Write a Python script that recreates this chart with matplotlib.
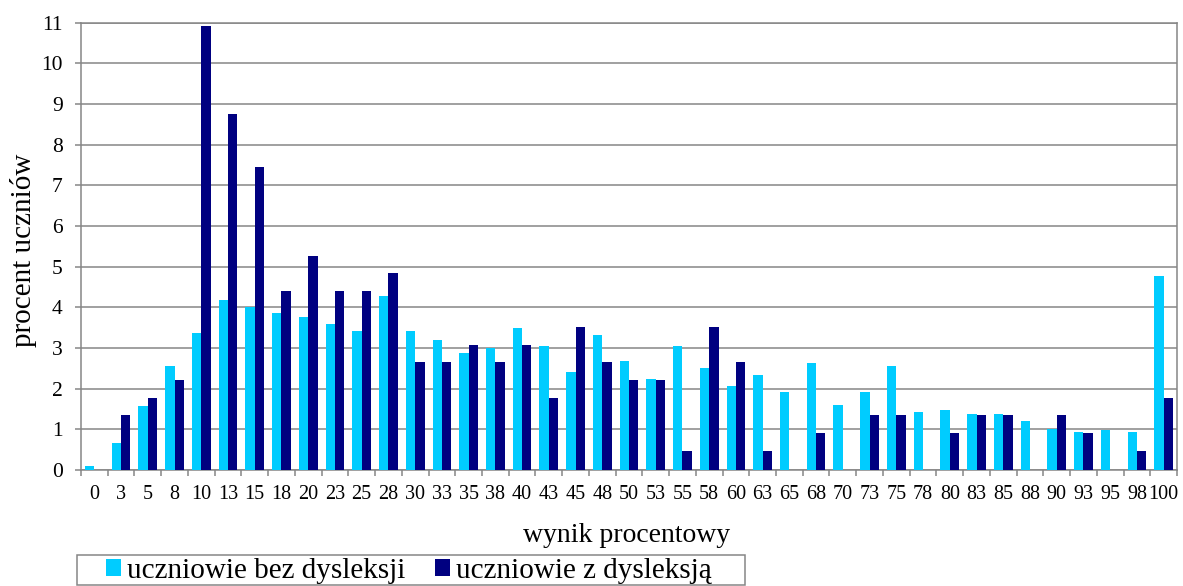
import matplotlib
matplotlib.use("Agg")
import matplotlib.pyplot as plt
from matplotlib.patches import Rectangle
import numpy as np

categories = ["0", "3", "5", "8", "10", "13", "15", "18", "20", "23", "25", "28", "30", "33",
              "35", "38", "40", "43", "45", "48", "50", "53", "55", "58", "60", "63", "65", "68",
              "70", "73", "75", "78", "80", "83", "85", "88", "90", "93", "95", "98", "100"]

bez_dysleksji = [0.11, 0.66, 1.57, 2.55, 3.37, 4.18, 4.00, 3.87, 3.77, 3.60, 3.42, 4.27, 3.42, 3.19,
                 2.87, 3.00, 3.50, 3.05, 2.42, 3.32, 2.69, 2.24, 3.05, 2.51, 2.06, 2.33, 1.92, 2.64,
                 1.61, 1.92, 2.56, 1.43, 1.48, 1.38, 1.38, 1.20, 1.02, 0.94, 0.98, 0.94, 4.77]

z_dysleksja = [0.0, 1.35, 1.78, 2.21, 10.93, 8.75, 7.45, 4.39, 5.26, 4.39, 4.39, 4.84, 2.65, 2.65,
               3.08, 2.65, 3.08, 1.78, 3.51, 2.65, 2.21, 2.21, 0.47, 3.51, 2.65, 0.47, 0.0, 0.90,
               0.0, 1.35, 1.35, 0.0, 0.90, 1.35, 1.35, 0.0, 1.35, 0.90, 0.0, 0.47, 1.78]

series_labels = ["uczniowie bez dysleksji", "uczniowie z dysleksją"]
colors = ["#00CCFF", "#000080"]

plt.rcParams['font.family'] = ['Liberation Serif', 'DejaVu Serif']

W, H = 1183, 586
fig = plt.figure(figsize=(W / 100, H / 100), dpi=100)
ax = fig.add_axes([81 / W, 1 - 470 / H, (1177 - 81) / W, (470 - 22.7) / H])

x = np.arange(len(categories))
bw = 0.35
ax.bar(x - bw / 2, bez_dysleksji, width=bw, color=colors[0], label=series_labels[0], zorder=3)
ax.bar(x + bw / 2, z_dysleksja, width=bw, color=colors[1], label=series_labels[1], zorder=3)

grey = "#868686"
ax.set_xlim(-0.5, len(categories) - 0.5)
ax.set_ylim(0, 11)
ax.set_yticks(range(0, 12))
ax.yaxis.grid(True, color=grey, linewidth=1.1, zorder=0)
ax.set_axisbelow(True)
for s in ax.spines.values():
    s.set_color(grey)
    s.set_linewidth(1.1)

ax.set_xticks(x)
ax.set_xticklabels(categories)
ax.set_xticks(np.arange(-0.5, len(categories), 1.0), minor=True)
ax.tick_params(axis='x', which='major', length=0, pad=11, labelsize=14.5)
ax.tick_params(axis='x', which='minor', length=4, width=1.1, color=grey, direction='out')
ax.tick_params(axis='y', which='major', length=4.3, width=1.1, color=grey, direction='out',
               pad=9, labelsize=15.5)

fig.text(627 / W, 1 - 536 / H, "wynik procentowy", ha='center', va='center', fontsize=20)
fig.text(24 / W, 1 - 250 / H, "procent uczniów", ha='center', va='center', rotation=90, fontsize=21)

# legend frame drawn manually
fig.patches.append(Rectangle((77 / W, 1 - 585 / H), (745 - 77) / W, (585 - 555) / H,
                             transform=fig.transFigure, fill=False, edgecolor=grey, linewidth=1.1))
fig.legend(loc='center left', bbox_to_anchor=(106 / W, 1 - 571 / H), ncol=2, frameon=False,
           fontsize=21, borderpad=0, borderaxespad=0, handlelength=0.52, handleheight=0.52,
           handletextpad=0.2, columnspacing=1.0)

fig.savefig("out.png", dpi=100)
